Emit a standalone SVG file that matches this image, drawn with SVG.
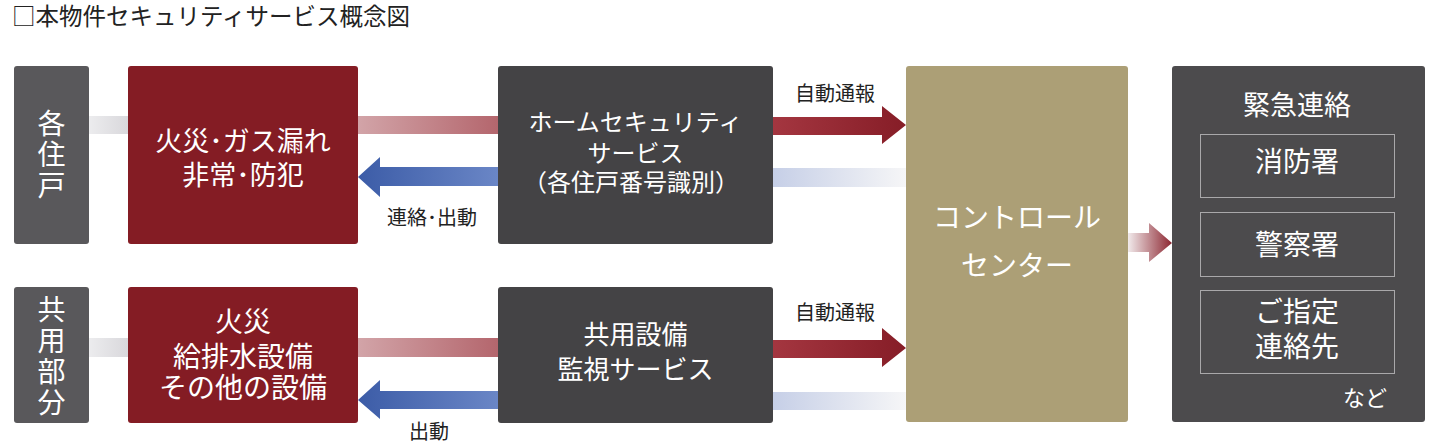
<svg xmlns="http://www.w3.org/2000/svg" width="1437" height="446" viewBox="0 0 1437 446">
<defs>
<style>
.t{font-family:"Noto Sans CJK JP","Noto Sans CJK SC",sans-serif;fill:#fff;text-anchor:middle}
.v{font-family:"Noto Sans CJK JP","Noto Sans CJK SC",sans-serif;fill:#fff;text-anchor:middle;writing-mode:vertical-rl;font-size:28px}
.lbl{font-family:"Noto Sans CJK JP","Noto Sans CJK SC",sans-serif;fill:#222;text-anchor:middle;font-size:20px}
.gray{fill:#59585b}
.red{fill:#841c24}
.dark{fill:#444345}
.sub{fill:none;stroke:#a9a8aa;stroke-width:1}
</style>
<linearGradient id="gGray" x1="0" x2="1" y1="0" y2="0"><stop offset="0" stop-color="#ececee"/><stop offset="1" stop-color="#d9d8dc"/></linearGradient>
<linearGradient id="gPink" x1="0" x2="1" y1="0" y2="0"><stop offset="0" stop-color="#d2a4a8"/><stop offset="1" stop-color="#b4666d"/></linearGradient>
<linearGradient id="gBlue" x1="0" x2="1" y1="0" y2="0"><stop offset="0" stop-color="#3c5ca7"/><stop offset="1" stop-color="#6a86c6"/></linearGradient>
<linearGradient id="gRed" x1="0" x2="1" y1="0" y2="0"><stop offset="0" stop-color="#a43640"/><stop offset="1" stop-color="#861d27"/></linearGradient>
<linearGradient id="gFaint" x1="0" x2="1" y1="0" y2="0"><stop offset="0" stop-color="#c6cfe7"/><stop offset="1" stop-color="#f6f6f7"/></linearGradient>
<linearGradient id="gOut" x1="0" x2="1" y1="0" y2="0"><stop offset="0" stop-color="#f1eaeb"/><stop offset="1" stop-color="#8d2631"/></linearGradient>
</defs>
<rect width="1437" height="446" fill="#fff"/>
<text x="12" y="25" font-family="Noto Sans CJK JP, sans-serif" font-size="23.5" fill="#222">□本物件セキュリティサービス概念図</text>

<g id="connectors">
<rect x="89" y="116" width="39" height="18" fill="url(#gGray)"/>
<rect x="358" y="116" width="140" height="18" fill="url(#gPink)"/>
<path d="M358,177 L380,157 L380,167 L498,167 L498,186 L380,186 L380,197 Z" fill="url(#gBlue)"/>
<text class="lbl" x="432" y="225">連絡･出動</text>
<path d="M773,117 L882,117 L882,106 L906,125 L882,144 L882,135 L773,135 Z" fill="url(#gRed)"/>
<text class="lbl" x="835" y="101">自動通報</text>
<rect x="773" y="168" width="133" height="19" fill="url(#gFaint)"/>

<rect x="89" y="338" width="39" height="19" fill="url(#gGray)"/>
<rect x="358" y="338" width="140" height="19" fill="url(#gPink)"/>
<path d="M358,400 L380,380 L380,391 L498,391 L498,409 L380,409 L380,419 Z" fill="url(#gBlue)"/>
<text class="lbl" x="429" y="439">出動</text>
<path d="M773,340 L882,340 L882,328 L906,348 L882,367 L882,358 L773,358 Z" fill="url(#gRed)"/>
<text class="lbl" x="835" y="320">自動通報</text>
<rect x="773" y="392" width="133" height="18" fill="url(#gFaint)"/>

<path d="M1128,233 L1149,233 L1149,223 L1172,243 L1149,262 L1149,252 L1128,252 Z" fill="url(#gOut)"/>
</g>

<g id="node-kakujuko">
<rect class="gray" x="14" y="66" width="75" height="178" rx="3"/>
<text class="v" x="51.5" y="156" letter-spacing="3">各住戸</text>
</g>
<g id="node-kyoyo">
<rect class="gray" x="14" y="287" width="75" height="136" rx="3"/>
<text class="v" x="51.5" y="357" letter-spacing="3">共用部分</text>
</g>
<g id="node-fire1">
<rect class="red" x="128" y="66" width="230" height="178" rx="3"/>
<text class="t" font-size="27"><tspan x="243" y="151">火災･ガス漏れ</tspan><tspan x="243" y="185">非常･防犯</tspan></text>
</g>
<g id="node-fire2">
<rect class="red" x="128" y="287" width="230" height="136" rx="3"/>
<text class="t" font-size="28"><tspan x="243" y="332">火災</tspan><tspan x="243" y="367">給排水設備</tspan><tspan x="243" y="398">その他の設備</tspan></text>
</g>
<g id="node-homesec">
<rect class="dark" x="498" y="66" width="275" height="178" rx="3"/>
<text class="t" font-size="24"><tspan x="635.5" y="131">ホームセキュリティ</tspan><tspan x="635.5" y="162">サービス</tspan><tspan x="631" y="191">（各住戸番号識別）</tspan></text>
</g>
<g id="node-kyoyosvc">
<rect class="dark" x="498" y="287" width="275" height="136" rx="3"/>
<text class="t" font-size="26"><tspan x="635.5" y="344">共用設備</tspan><tspan x="635.5" y="379">監視サービス</tspan></text>
</g>
<g id="node-control">
<rect x="906" y="66" width="222" height="356" rx="3" fill="#ac9f76"/>
<text class="t" font-size="28"><tspan x="1017" y="228">コントロール</tspan><tspan x="1017" y="276">センター</tspan></text>
</g>
<g id="node-emergency">
<rect x="1172" y="66" width="253" height="356" rx="3" fill="#4c4b4d"/>
<text class="t" font-size="27" x="1297" y="115">緊急連絡</text>
<rect class="sub" x="1200.5" y="134.5" width="194" height="63"/>
<text class="t" font-size="28" x="1297" y="172">消防署</text>
<rect class="sub" x="1200.5" y="212.5" width="194" height="64"/>
<text class="t" font-size="28" x="1297" y="255">警察署</text>
<rect class="sub" x="1200.5" y="290.5" width="194" height="83"/>
<text class="t" font-size="28"><tspan x="1297" y="322">ご指定</tspan><tspan x="1297" y="357">連絡先</tspan></text>
<text class="t" font-size="22" x="1365" y="406">など</text>
</g>
</svg>
